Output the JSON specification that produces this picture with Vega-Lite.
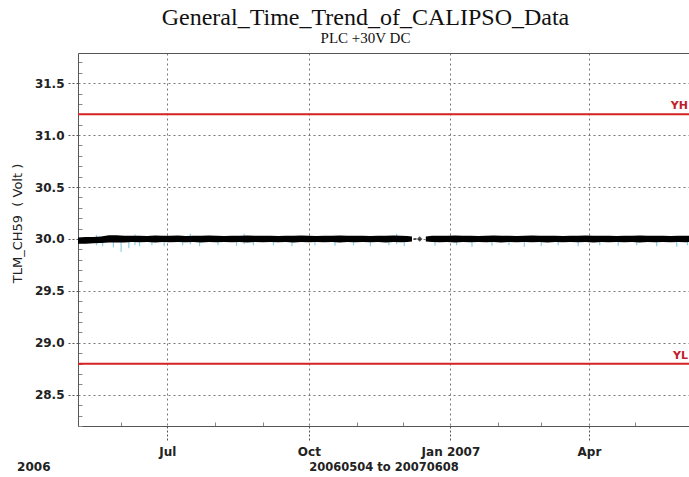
{
  "$schema": "https://vega.github.io/schema/vega-lite/v6.json",
  "width": 611,
  "height": 373,
  "autosize": "none",
  "padding": {"left": 78, "top": 53, "right": 0, "bottom": 51},
  "background": "white",
  "title": {
    "text": "General_Time_Trend_of_CALIPSO_Data",
    "subtitle": "PLC +30V DC",
    "font": "Liberation Serif",
    "fontSize": 24,
    "fontWeight": "normal",
    "color": "#111",
    "subtitleFont": "Liberation Serif",
    "subtitleFontSize": 15,
    "subtitleColor": "#111",
    "subtitlePadding": 1,
    "anchor": "middle",
    "dx": -18,
    "offset": 7
  },
  "config": {
    "view": {"stroke": null},
    "axis": {"labelFont": "DejaVu Sans", "titleFont": "DejaVu Sans"}
  },
  "datasets": {
    "band": [
      {"date": "2006-05-04", "seg": "a", "lo": 29.955, "hi": 30.015},
      {"date": "2006-05-09", "seg": "a", "lo": 29.955, "hi": 30.02},
      {"date": "2006-05-14", "seg": "a", "lo": 29.96, "hi": 30.02},
      {"date": "2006-05-19", "seg": "a", "lo": 29.962, "hi": 30.025},
      {"date": "2006-05-24", "seg": "a", "lo": 29.965, "hi": 30.035},
      {"date": "2006-05-29", "seg": "a", "lo": 29.965, "hi": 30.036},
      {"date": "2006-06-03", "seg": "a", "lo": 29.965, "hi": 30.03},
      {"date": "2006-06-08", "seg": "a", "lo": 29.97, "hi": 30.03},
      {"date": "2006-06-13", "seg": "a", "lo": 29.968, "hi": 30.032},
      {"date": "2006-06-18", "seg": "a", "lo": 29.972, "hi": 30.028},
      {"date": "2006-06-23", "seg": "a", "lo": 29.966, "hi": 30.034},
      {"date": "2006-06-28", "seg": "a", "lo": 29.97, "hi": 30.03},
      {"date": "2006-07-03", "seg": "a", "lo": 29.968, "hi": 30.03},
      {"date": "2006-07-08", "seg": "a", "lo": 29.972, "hi": 30.033},
      {"date": "2006-07-13", "seg": "a", "lo": 29.968, "hi": 30.028},
      {"date": "2006-07-18", "seg": "a", "lo": 29.97, "hi": 30.032},
      {"date": "2006-07-23", "seg": "a", "lo": 29.966, "hi": 30.03},
      {"date": "2006-07-28", "seg": "a", "lo": 29.97, "hi": 30.034},
      {"date": "2006-08-02", "seg": "a", "lo": 29.968, "hi": 30.03},
      {"date": "2006-08-07", "seg": "a", "lo": 29.972, "hi": 30.028},
      {"date": "2006-08-12", "seg": "a", "lo": 29.968, "hi": 30.032},
      {"date": "2006-08-17", "seg": "a", "lo": 29.97, "hi": 30.03},
      {"date": "2006-08-22", "seg": "a", "lo": 29.966, "hi": 30.034},
      {"date": "2006-08-27", "seg": "a", "lo": 29.97, "hi": 30.03},
      {"date": "2006-09-01", "seg": "a", "lo": 29.968, "hi": 30.032},
      {"date": "2006-09-06", "seg": "a", "lo": 29.972, "hi": 30.03},
      {"date": "2006-09-11", "seg": "a", "lo": 29.968, "hi": 30.028},
      {"date": "2006-09-16", "seg": "a", "lo": 29.97, "hi": 30.032},
      {"date": "2006-09-21", "seg": "a", "lo": 29.966, "hi": 30.03},
      {"date": "2006-09-26", "seg": "a", "lo": 29.97, "hi": 30.033},
      {"date": "2006-10-01", "seg": "a", "lo": 29.968, "hi": 30.03},
      {"date": "2006-10-06", "seg": "a", "lo": 29.972, "hi": 30.028},
      {"date": "2006-10-11", "seg": "a", "lo": 29.968, "hi": 30.032},
      {"date": "2006-10-16", "seg": "a", "lo": 29.97, "hi": 30.03},
      {"date": "2006-10-21", "seg": "a", "lo": 29.966, "hi": 30.034},
      {"date": "2006-10-26", "seg": "a", "lo": 29.97, "hi": 30.03},
      {"date": "2006-10-31", "seg": "a", "lo": 29.968, "hi": 30.032},
      {"date": "2006-11-05", "seg": "a", "lo": 29.972, "hi": 30.03},
      {"date": "2006-11-10", "seg": "a", "lo": 29.968, "hi": 30.028},
      {"date": "2006-11-15", "seg": "a", "lo": 29.97, "hi": 30.032},
      {"date": "2006-11-20", "seg": "a", "lo": 29.966, "hi": 30.03},
      {"date": "2006-11-25", "seg": "a", "lo": 29.97, "hi": 30.034},
      {"date": "2006-11-30", "seg": "a", "lo": 29.968, "hi": 30.03},
      {"date": "2006-12-04", "seg": "a", "lo": 29.972, "hi": 30.028},
      {"date": "2006-12-07", "seg": "a", "lo": 29.975, "hi": 30.025},
      {"date": "2006-12-08", "seg": "b", "lo": 29.995, "hi": 30.006},
      {"date": "2006-12-10", "seg": "b", "lo": 29.995, "hi": 30.006},
      {"date": "2006-12-16", "seg": "c", "lo": 29.975, "hi": 30.025},
      {"date": "2006-12-20", "seg": "c", "lo": 29.97, "hi": 30.03},
      {"date": "2006-12-25", "seg": "c", "lo": 29.968, "hi": 30.032},
      {"date": "2006-12-30", "seg": "c", "lo": 29.97, "hi": 30.03},
      {"date": "2007-01-04", "seg": "c", "lo": 29.966, "hi": 30.034},
      {"date": "2007-01-09", "seg": "c", "lo": 29.97, "hi": 30.03},
      {"date": "2007-01-14", "seg": "c", "lo": 29.968, "hi": 30.032},
      {"date": "2007-01-19", "seg": "c", "lo": 29.972, "hi": 30.028},
      {"date": "2007-01-24", "seg": "c", "lo": 29.968, "hi": 30.03},
      {"date": "2007-01-29", "seg": "c", "lo": 29.97, "hi": 30.033},
      {"date": "2007-02-03", "seg": "c", "lo": 29.966, "hi": 30.03},
      {"date": "2007-02-08", "seg": "c", "lo": 29.97, "hi": 30.032},
      {"date": "2007-02-13", "seg": "c", "lo": 29.968, "hi": 30.028},
      {"date": "2007-02-18", "seg": "c", "lo": 29.972, "hi": 30.03},
      {"date": "2007-02-23", "seg": "c", "lo": 29.968, "hi": 30.034},
      {"date": "2007-02-28", "seg": "c", "lo": 29.97, "hi": 30.03},
      {"date": "2007-03-05", "seg": "c", "lo": 29.966, "hi": 30.032},
      {"date": "2007-03-10", "seg": "c", "lo": 29.97, "hi": 30.03},
      {"date": "2007-03-15", "seg": "c", "lo": 29.968, "hi": 30.028},
      {"date": "2007-03-20", "seg": "c", "lo": 29.972, "hi": 30.032},
      {"date": "2007-03-25", "seg": "c", "lo": 29.968, "hi": 30.03},
      {"date": "2007-03-30", "seg": "c", "lo": 29.97, "hi": 30.034},
      {"date": "2007-04-04", "seg": "c", "lo": 29.966, "hi": 30.03},
      {"date": "2007-04-09", "seg": "c", "lo": 29.97, "hi": 30.032},
      {"date": "2007-04-14", "seg": "c", "lo": 29.968, "hi": 30.03},
      {"date": "2007-04-19", "seg": "c", "lo": 29.972, "hi": 30.028},
      {"date": "2007-04-24", "seg": "c", "lo": 29.968, "hi": 30.032},
      {"date": "2007-04-29", "seg": "c", "lo": 29.97, "hi": 30.03},
      {"date": "2007-05-04", "seg": "c", "lo": 29.966, "hi": 30.034},
      {"date": "2007-05-09", "seg": "c", "lo": 29.97, "hi": 30.03},
      {"date": "2007-05-14", "seg": "c", "lo": 29.968, "hi": 30.032},
      {"date": "2007-05-19", "seg": "c", "lo": 29.972, "hi": 30.03},
      {"date": "2007-05-24", "seg": "c", "lo": 29.968, "hi": 30.028},
      {"date": "2007-05-29", "seg": "c", "lo": 29.97, "hi": 30.032},
      {"date": "2007-06-03", "seg": "c", "lo": 29.968, "hi": 30.03},
      {"date": "2007-06-05", "seg": "c", "lo": 29.97, "hi": 30.03}
    ],
    "spikes": [
      {"date": "2006-05-16", "lo": 29.94, "hi": 30.04},
      {"date": "2006-05-20", "lo": 29.93, "hi": 30.0},
      {"date": "2006-05-27", "lo": 29.92, "hi": 30.0},
      {"date": "2006-06-01", "lo": 29.875, "hi": 30.0},
      {"date": "2006-06-06", "lo": 29.91, "hi": 30.0},
      {"date": "2006-06-10", "lo": 29.94, "hi": 30.045},
      {"date": "2006-06-13", "lo": 29.93, "hi": 30.0},
      {"date": "2006-06-21", "lo": 29.94, "hi": 30.0},
      {"date": "2006-06-29", "lo": 29.93, "hi": 30.0},
      {"date": "2006-07-11", "lo": 29.94, "hi": 30.0},
      {"date": "2006-07-16", "lo": 29.95, "hi": 30.05},
      {"date": "2006-07-22", "lo": 29.93, "hi": 30.0},
      {"date": "2006-08-03", "lo": 29.94, "hi": 30.0},
      {"date": "2006-08-15", "lo": 29.935, "hi": 30.0},
      {"date": "2006-08-20", "lo": 29.95, "hi": 30.05},
      {"date": "2006-08-26", "lo": 29.94, "hi": 30.0},
      {"date": "2006-09-08", "lo": 29.94, "hi": 30.0},
      {"date": "2006-09-20", "lo": 29.93, "hi": 30.0},
      {"date": "2006-10-05", "lo": 29.94, "hi": 30.0},
      {"date": "2006-10-18", "lo": 29.935, "hi": 30.0},
      {"date": "2006-10-30", "lo": 29.94, "hi": 30.0},
      {"date": "2006-11-10", "lo": 29.93, "hi": 30.0},
      {"date": "2006-11-22", "lo": 29.94, "hi": 30.0},
      {"date": "2006-11-27", "lo": 29.95, "hi": 30.05},
      {"date": "2006-12-02", "lo": 29.93, "hi": 30.0},
      {"date": "2006-12-22", "lo": 29.935, "hi": 30.0},
      {"date": "2007-01-05", "lo": 29.94, "hi": 30.0},
      {"date": "2007-01-15", "lo": 29.925, "hi": 30.0},
      {"date": "2007-01-28", "lo": 29.935, "hi": 30.0},
      {"date": "2007-02-08", "lo": 29.94, "hi": 30.0},
      {"date": "2007-02-18", "lo": 29.925, "hi": 30.0},
      {"date": "2007-03-01", "lo": 29.935, "hi": 30.0},
      {"date": "2007-03-12", "lo": 29.94, "hi": 30.0},
      {"date": "2007-03-25", "lo": 29.93, "hi": 30.0},
      {"date": "2007-04-08", "lo": 29.94, "hi": 30.0},
      {"date": "2007-04-20", "lo": 29.935, "hi": 30.0},
      {"date": "2007-05-02", "lo": 29.94, "hi": 30.0},
      {"date": "2007-05-15", "lo": 29.93, "hi": 30.0},
      {"date": "2007-05-28", "lo": 29.925, "hi": 30.0},
      {"date": "2007-06-04", "lo": 29.94, "hi": 30.0}
    ],
    "limits": [
      {"label": "YH", "value": 31.2},
      {"label": "YL", "value": 28.8}
    ],
    "marker": [
      {"date": "2006-12-12", "value": 30.0}
    ]
  },
  "layer": [
    {
      "data": {"name": "spikes"},
      "mark": {"type": "rule", "color": "#8fd0ea", "strokeWidth": 1.2, "clip": true},
      "encoding": {
        "x": {
          "field": "date", "type": "temporal",
          "scale": {"type": "utc", "domain": [{"year": 2006, "month": 5, "date": 4, "utc": true}, {"year": 2007, "month": 6, "date": 5, "utc": true}]},
          "axis": {
            "orient": "bottom",
            "values": [
              {"year": 2006, "month": 6, "date": 1, "utc": true},
              {"year": 2006, "month": 8, "date": 1, "utc": true},
              {"year": 2006, "month": 9, "date": 1, "utc": true},
              {"year": 2006, "month": 11, "date": 1, "utc": true},
              {"year": 2006, "month": 12, "date": 1, "utc": true},
              {"year": 2007, "month": 2, "date": 1, "utc": true},
              {"year": 2007, "month": 3, "date": 1, "utc": true},
              {"year": 2007, "month": 5, "date": 1, "utc": true}
            ],
            "labels": false, "domain": false, "grid": false, "title": null,
            "ticks": true, "tickSize": -4, "tickColor": "#888", "tickWidth": 1
          }
        },
        "y": {
          "field": "lo", "type": "quantitative",
          "scale": {"domain": [28.2, 31.79], "nice": false, "zero": false},
          "axis": {
            "orient": "left",
            "values": [28.2, 28.3, 28.4, 28.6, 28.7, 28.8, 28.9, 29.1, 29.2, 29.3, 29.4, 29.6, 29.7, 29.8, 29.9, 30.1, 30.2, 30.3, 30.4, 30.6, 30.7, 30.8, 30.9, 31.1, 31.2, 31.3, 31.4, 31.6, 31.7],
            "labels": false, "domain": false, "grid": false, "title": null,
            "ticks": true, "tickSize": -4, "tickColor": "#888", "tickWidth": 1
          }
        },
        "y2": {"field": "hi"}
      }
    },
    {
      "data": {"name": "band"},
      "mark": {"type": "area", "color": "#000", "clip": true, "interpolate": "linear"},
      "encoding": {
        "x": {
          "field": "date", "type": "temporal",
          "scale": {"type": "utc", "domain": [{"year": 2006, "month": 5, "date": 4, "utc": true}, {"year": 2007, "month": 6, "date": 5, "utc": true}]},
          "axis": {
            "orient": "bottom",
            "values": [
              {"year": 2006, "month": 7, "date": 1, "utc": true},
              {"year": 2006, "month": 10, "date": 1, "utc": true},
              {"year": 2007, "month": 1, "date": 1, "utc": true},
              {"year": 2007, "month": 4, "date": 1, "utc": true}
            ],
            "labelExpr": "utcFormat(datum.value, '%m') == '01' ? utcFormat(datum.value, '%b %Y') : utcFormat(datum.value, '%b')",
            "labelFont": "DejaVu Sans", "labelFontSize": 12, "labelFontWeight": "bold", "labelColor": "#222",
            "labelPadding": 6, "labelFlush": false,
            "domain": true, "domainColor": "#555", "domainWidth": 1,
            "ticks": true, "tickSize": 14, "tickDash": [2, 2], "tickColor": "#555", "tickWidth": 1,
            "grid": true, "gridDash": [2, 3], "gridColor": "#777", "gridWidth": 1,
            "title": "20060504 to 20070608",
            "titleFont": "DejaVu Sans", "titleFontSize": 11.5, "titleFontWeight": "bold", "titleColor": "#222",
            "titlePadding": 4
          }
        },
        "y": {
          "field": "lo", "type": "quantitative",
          "scale": {"domain": [28.2, 31.79], "nice": false, "zero": false},
          "axis": {
            "orient": "left",
            "values": [28.5, 29.0, 29.5, 30.0, 30.5, 31.0, 31.5],
            "format": ".1f",
            "labelFont": "DejaVu Sans", "labelFontSize": 12, "labelFontWeight": "bold", "labelColor": "#222",
            "labelPadding": 4,
            "domain": true, "domainColor": "#555", "domainWidth": 1,
            "ticks": true, "tickSize": 10, "tickDash": [2, 2], "tickColor": "#555", "tickWidth": 1,
            "grid": true, "gridDash": [2, 3], "gridColor": "#777", "gridWidth": 1,
            "title": "TLM_CH59\u00a0\u00a0(\u00a0Volt\u00a0)",
            "titleFont": "DejaVu Sans", "titleFontSize": 13, "titleFontWeight": "normal", "titleColor": "#222",
            "titlePadding": 10, "titleY": 170
          }
        },
        "y2": {"field": "hi"},
        "detail": {"field": "seg"}
      }
    },
    {
      "data": {"name": "marker"},
      "mark": {"type": "point", "shape": "diamond", "filled": true, "color": "#000", "size": 30},
      "encoding": {
        "x": {
          "field": "date", "type": "temporal",
          "scale": {"type": "utc", "domain": [{"year": 2006, "month": 5, "date": 4, "utc": true}, {"year": 2007, "month": 6, "date": 5, "utc": true}]},
          "axis": {
            "orient": "bottom",
            "values": [{"year": 2006, "month": 5, "date": 4, "utc": true}],
            "labelExpr": "'2006'",
            "labelFont": "DejaVu Sans", "labelFontSize": 12, "labelFontWeight": "bold", "labelColor": "#222",
            "labelAlign": "right", "labelOffset": -28, "labelPadding": 35, "labelBaseline": "top",
            "domain": false, "ticks": false, "grid": false, "title": null
          }
        },
        "y": {
          "field": "value", "type": "quantitative",
          "scale": {"domain": [28.2, 31.79], "nice": false, "zero": false},
          "axis": null
        }
      }
    },
    {
      "data": {"name": "limits"},
      "mark": {"type": "rule", "color": "#d62222", "strokeWidth": 2},
      "encoding": {
        "y": {
          "field": "value", "type": "quantitative",
          "scale": {"domain": [28.2, 31.79], "nice": false, "zero": false},
          "axis": null
        }
      }
    },
    {
      "data": {"name": "limits"},
      "mark": {"type": "text", "color": "#c0202a", "font": "DejaVu Sans", "fontSize": 11, "fontWeight": "bold", "align": "right", "baseline": "bottom", "dy": -3, "dx": -1},
      "encoding": {
        "x": {
          "datum": {"year": 2007, "month": 6, "date": 5, "utc": true}, "type": "temporal",
          "scale": {"type": "utc", "domain": [{"year": 2006, "month": 5, "date": 4, "utc": true}, {"year": 2007, "month": 6, "date": 5, "utc": true}]},
          "axis": {
            "orient": "top", "labels": false, "ticks": false, "grid": false, "title": null,
            "domain": true, "domainColor": "#555", "domainWidth": 1
          }
        },
        "y": {
          "field": "value", "type": "quantitative",
          "scale": {"domain": [28.2, 31.79], "nice": false, "zero": false},
          "axis": null
        },
        "text": {"field": "label"}
      }
    }
  ],
  "resolve": {"axis": {"x": "independent", "y": "independent"}}
}
